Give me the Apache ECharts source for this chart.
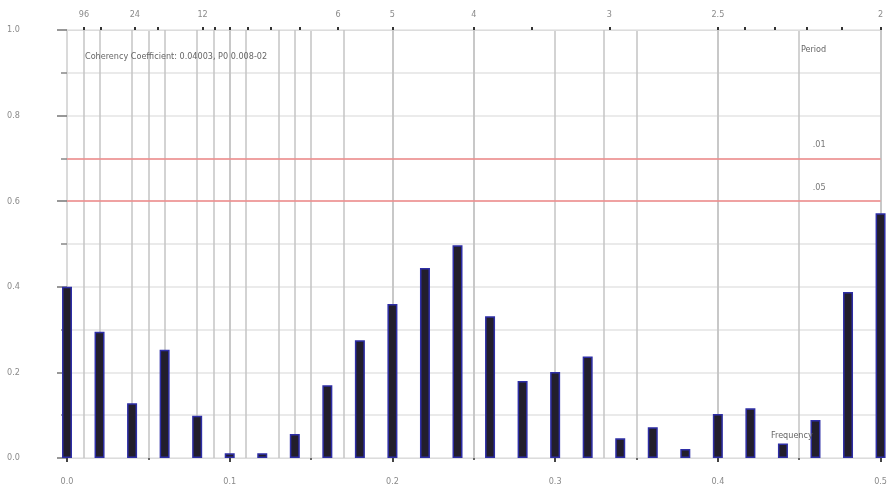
<!DOCTYPE html>
<html>
<head>
<meta charset="utf-8">
<script src="https://cdn.jsdelivr.net/npm/echarts@6/dist/echarts.min.js"></script>
<style>html,body{margin:0;padding:0;background:#fff}#c{width:890px;height:494px}</style>
</head>
<body>
<div id="c"></div>
<script>
const frequencies = [0, 0.02, 0.04, 0.06, 0.08, 0.10, 0.12, 0.14, 0.16, 0.18, 0.20, 0.22, 0.24,
  0.26, 0.28, 0.30, 0.32, 0.34, 0.36, 0.38, 0.40, 0.42, 0.44, 0.46, 0.48, 0.50];
const coherency = [0.400, 0.295, 0.128, 0.253, 0.099, 0.011, 0.011, 0.056, 0.170, 0.275, 0.360, 0.444, 0.497,
  0.331, 0.180, 0.201, 0.237, 0.046, 0.072, 0.021, 0.103, 0.116, 0.034, 0.089, 0.388, 0.572];
const periodTicks = [96, 48, 24, 18, 12, 11, 10, 9, 8, 7, 6, 5, 4, 3.5, 3, 2.5, 2.4, 2.3, 2.2, 2.1, 2];
const periodLabels = [96, 24, 12, 6, 5, 4, 3, 2.5, 2];
const periodGridLines = [96, 48, 24, 18, 12, 11, 10, 9, 8, 7, 6, 5, 4, 3, 2.5, 2];
const significance = [{ level: '.01', value: 0.7 }, { level: '.05', value: 0.6 }];
const yTicks = [0, 0.2, 0.4, 0.6, 0.8, 1.0];
const infoText = 'Coherency Coefficient: 0.04003, P0 0.008-02';

const chart = echarts.init(document.getElementById('c'), null, { renderer: 'canvas' });
const lblColor = '#8a8a8a';
const font = '"DejaVu Sans Condensed", "Liberation Sans", sans-serif';
const markData = periodGridLines.map(p => ({ xAxis: 1 / p, lineStyle: { color: '#c4c4c4', width: 1.5, type: 'solid' }, label: { show: false } }))
  .concat(significance.map(s => ({
    yAxis: s.value,
    lineStyle: { color: '#f08a8a', width: 1.5, type: 'solid' },
    label: { show: true, formatter: s.level, position: 'insideEndTop', distance: [55, 9], color: '#777', fontSize: 9, fontFamily: font }
  })));

chart.setOption({
  animation: false,
  backgroundColor: '#fff',
  grid: { left: 67, right: 7, top: 30, bottom: 36 },
  xAxis: [
    {
      type: 'value', position: 'bottom', min: 0, max: 0.5, interval: 0.1,
      axisLine: { show: true, lineStyle: { color: '#dcdcdc', width: 1 } },
      axisTick: { show: true, length: 4, lineStyle: { color: '#444', width: 2 } },
      minorTick: { show: true, splitNumber: 2, length: 2, lineStyle: { color: '#666', width: 2 } },
      splitLine: { show: true, lineStyle: { color: '#c4c4c4', width: 1.5 } },
      minorSplitLine: { show: true, lineStyle: { color: '#c4c4c4', width: 1.5 } },
      axisLabel: { formatter: v => v.toFixed(1), color: lblColor, fontSize: 9, margin: 19, fontFamily: font }
    },
    {
      type: 'value', position: 'top', min: 0, max: 0.5,
      axisLine: { show: true, lineStyle: { color: '#dcdcdc', width: 1 } },
      axisTick: { show: true, length: 3, customValues: periodTicks.map(p => 1 / p), lineStyle: { color: '#333', width: 2 } },
      splitLine: { show: false },
      axisLabel: { customValues: periodLabels.map(p => 1 / p), formatter: v => String(Math.round(10 / v) / 10), color: lblColor, fontSize: 9, margin: 11, fontFamily: font }
    }
  ],
  yAxis: {
    type: 'value', min: 0, max: 1, interval: 0.2,
    axisLine: { show: true, lineStyle: { color: '#dcdcdc', width: 1.5 } },
    axisTick: { show: true, length: 10, lineStyle: { color: '#777', width: 1.5 } },
    minorTick: { show: true, splitNumber: 2, length: 6, lineStyle: { color: '#888', width: 1.5 } },
    splitLine: { show: true, lineStyle: { color: '#e4e4e4', width: 1.5 } },
    minorSplitLine: { show: true, lineStyle: { color: '#e4e4e4', width: 1.5 } },
    axisLabel: { formatter: v => v.toFixed(1), color: lblColor, fontSize: 9, margin: 60, align: 'left', fontFamily: font, customValues: yTicks }
  },
  series: [{
    type: 'bar',
    xAxisIndex: 0,
    data: frequencies.map((f, i) => [f, coherency[i]]),
    barWidth: 10,
    itemStyle: { color: '#221e2c', borderColor: '#2e2ea6', borderWidth: 1.5 },
    z: 5,
    markLine: {
      silent: true, symbol: 'none', z: 2,
      data: markData
    }
  }],
  graphic: [
    { type: 'text', left: 85, top: 52, z: 10, style: { text: infoText, fill: '#666', fontSize: 9, fontFamily: font } },
    { type: 'text', left: 801, top: 45, z: 10, style: { text: 'Period', fill: '#666', fontSize: 9, fontFamily: font } },
    { type: 'text', left: 771, top: 431, z: 10, style: { text: 'Frequency', fill: '#666', fontSize: 9, fontFamily: font } }
  ]
});
</script>
</body>
</html>
